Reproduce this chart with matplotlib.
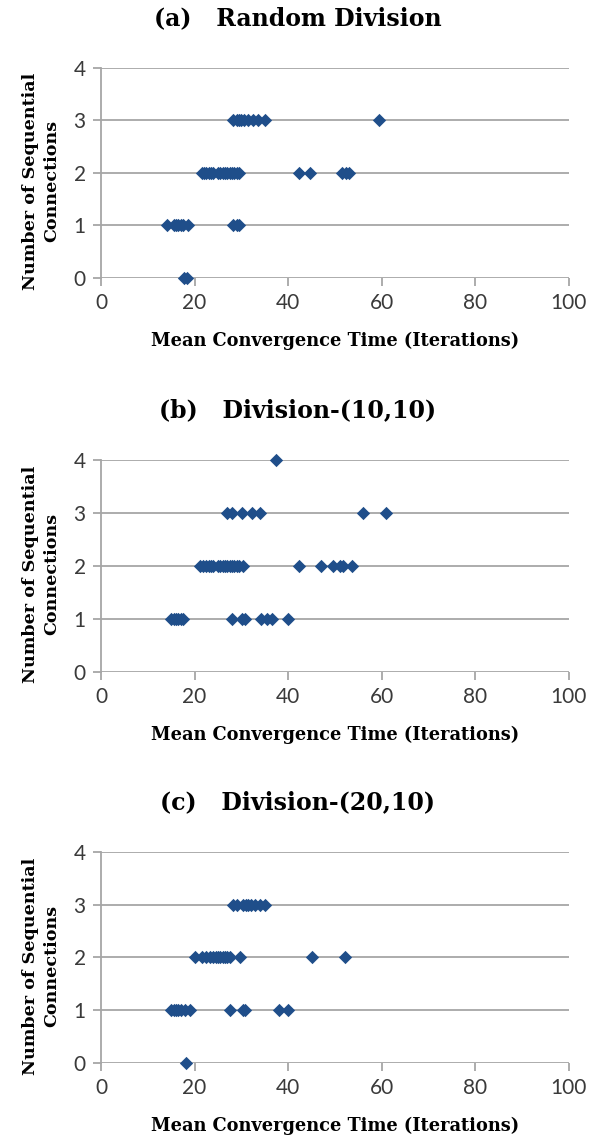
import numpy as np
import matplotlib
matplotlib.use("Agg")
import matplotlib.pyplot as plt

# panel titles
titles = ["(a)   Random Division", "(b)   Division-(10,10)", "(c)   Division-(20,10)"]

# (a) Random Division
a_x = [28.3, 29, 29.5, 30, 30.5, 31.5, 32.5, 33.5, 35, 59.5,
       21.5, 22, 22.5, 23, 23.5, 24, 25, 25.5, 26, 26.5, 27, 27.5, 28, 28.5, 29, 29.5,
       42.4, 44.7, 51.4, 52.3, 53,
       14, 15.5, 16, 16.5, 17, 17.5, 18.5, 28.3, 29, 29.5,
       17.7, 18.3]
a_y = [3] * 10 + [2] * 21 + [1] * 10 + [0] * 2

# (b) Division-(10,10)
b_x = [37.5,
       26.9, 27.9, 30.1, 32.2, 34, 55.9, 60.9,
       21.2, 21.8, 22.5, 23, 23.5, 24, 25, 25.5, 26, 26.5, 27, 27.5, 28, 28.5, 29, 29.5, 30.3,
       42.4, 47, 49.6, 51, 51.8, 53.6,
       15, 15.5, 16, 16.5, 17, 17.5, 28.1, 30.1, 30.8, 34.1, 35.4, 36.5, 39.9]
b_y = [4] * 1 + [3] * 7 + [2] * 23 + [1] * 13

# (c) Division-(20,10)
c_x = [28.3, 29, 30.3, 31, 31.5, 32, 33, 34, 35,
       20.1, 21.5, 22.5, 23.2, 24, 24.5, 25, 25.5, 26, 26.5, 27, 27.5, 29.6, 45.2, 52.1,
       15, 15.5, 16, 16.5, 17, 18, 19, 27.5, 30.3, 30.7, 38.1, 39.9,
       18.1]
c_y = [3] * 9 + [2] * 15 + [1] * 12 + [0] * 1

panels = [(a_x, a_y), (b_x, b_y), (c_x, c_y)]

x_ticks = [0, 20, 40, 60, 80, 100]
y_ticks = [0, 1, 2, 3, 4]

marker_color = "#1f4e8a"
grid_color = "#a6a6a6"
text_color = "#3a3a3a"

fig = plt.figure(figsize=(5.96, 11.36), dpi=100)

# axes boxes in figure fraction [left, bottom, width, height]
boxes = [
    [0.1695, 0.7553, 0.785, 0.1849],
    [0.1695, 0.4085, 0.785, 0.1866],
    [0.1695, 0.0643, 0.785, 0.1857],
]

for (xs, ys), box, title in zip(panels, boxes, titles):
    ax = fig.add_axes(box)
    ax.scatter(xs, ys, marker="D", s=46, color=marker_color, zorder=3,
               linewidths=0, clip_on=False)
    ax.set_xlim(0, 100)
    ax.set_ylim(0, 4)
    ax.set_xticks(x_ticks)
    ax.set_yticks(y_ticks)
    ax.yaxis.grid(True, color=grid_color, linewidth=1.3)
    ax.set_axisbelow(True)
    for side in ["top", "right", "bottom"]:
        ax.spines[side].set_visible(False)
    ax.spines["left"].set_color(grid_color)
    ax.spines["left"].set_linewidth(1.3)
    ax.tick_params(axis="both", colors=grid_color, length=6, width=1.3,
                   labelcolor=text_color, labelsize=15, pad=5)
    for lab in ax.get_xticklabels() + ax.get_yticklabels():
        lab.set_family("Lato")
    ax.set_xlabel("Mean Convergence Time (Iterations)", family="DejaVu Serif",
                  fontweight="bold", fontsize=12.8, labelpad=13, color="black")
    ax.set_ylabel("Number of Sequential\nConnections", family="DejaVu Serif",
                  fontweight="bold", fontsize=12.6, color="black",
                  linespacing=1.3)
    ax.yaxis.set_label_coords(-0.088, 0.46)
    ax.annotate(title, xy=(0.42, 1.0), xycoords="axes fraction",
                xytext=(0, 36), textcoords="offset points",
                ha="center", va="center", family="DejaVu Serif",
                fontweight="bold", fontsize=17)

plt.savefig("out.png", dpi=100)
plt.close()
